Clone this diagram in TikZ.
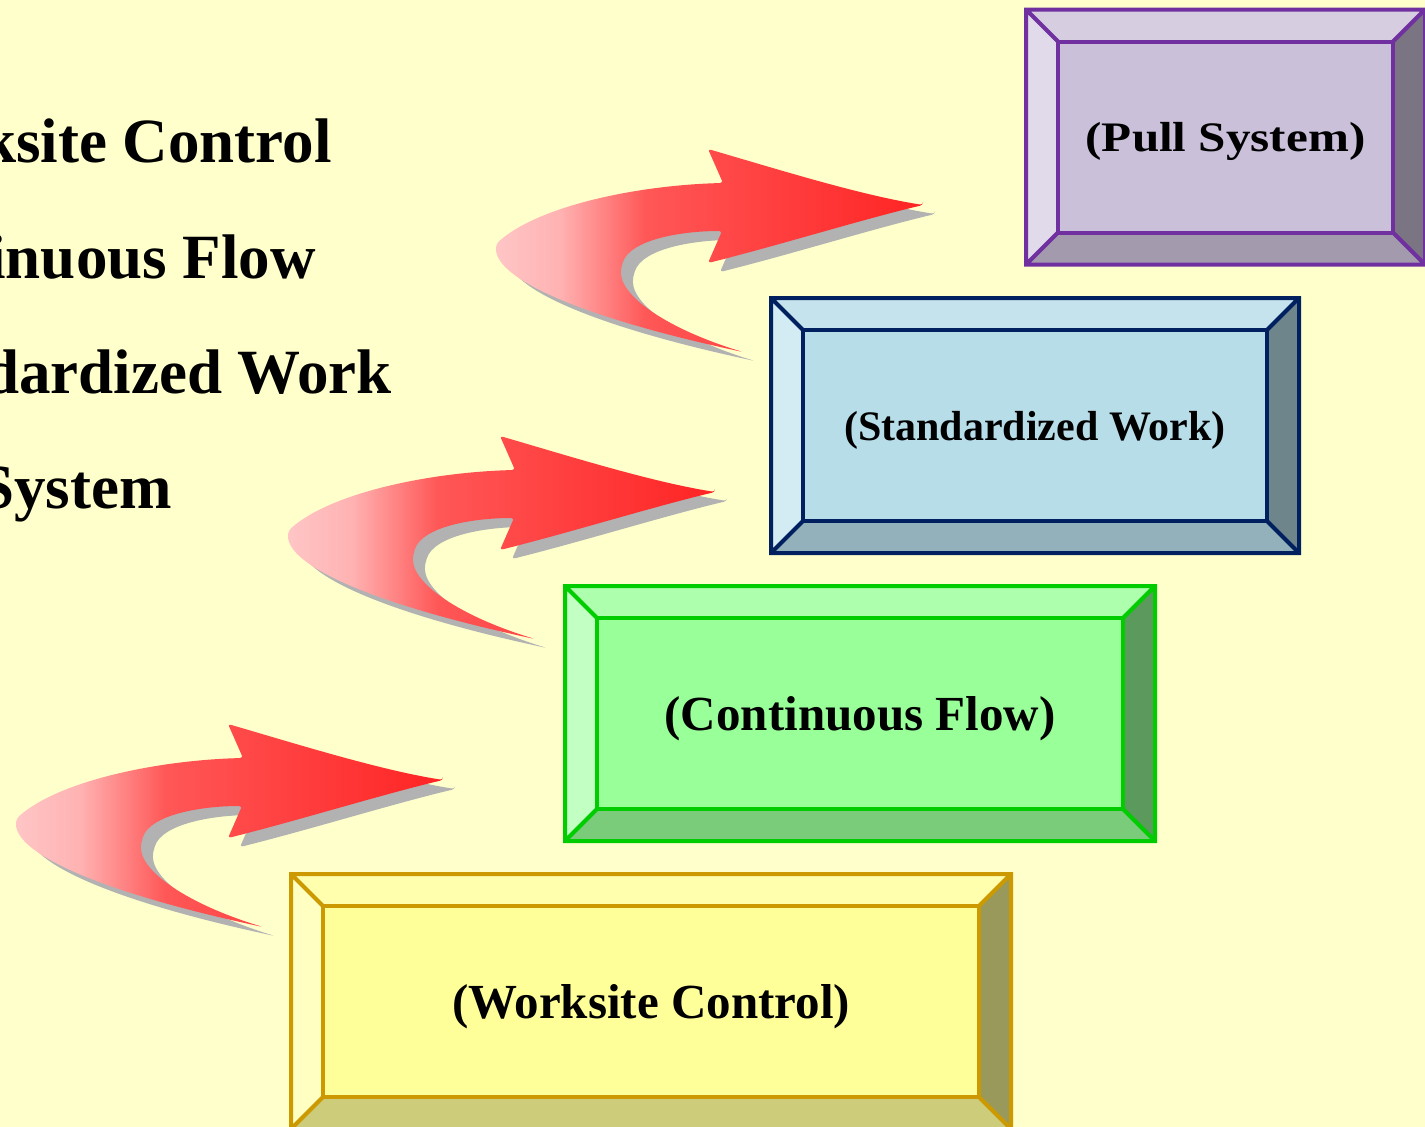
\documentclass[tikz,border=0pt]{standalone}
\usepackage{fontspec}
\setmainfont{Liberation Serif}
\newfontfamily\widefont[FakeStretch=1.17]{Liberation Serif}
\usetikzlibrary{backgrounds}

\definecolor{paper}{HTML}{FFFFCC}
\definecolor{shadowgray}{HTML}{B2B2B2}
% worksite control
\definecolor{workline}{HTML}{CC9900}
\definecolor{workface}{HTML}{FFFF99}
\definecolor{worktop}{HTML}{FFFFAD}
\definecolor{workleft}{HTML}{FFFFC2}
\definecolor{workbottom}{HTML}{CCCC7A}
\definecolor{workright}{HTML}{99995C}
% continuous flow
\definecolor{flowline}{HTML}{00CC00}
\definecolor{flowface}{HTML}{99FF99}
\definecolor{flowtop}{HTML}{ADFFAD}
\definecolor{flowleft}{HTML}{C2FFC2}
\definecolor{flowbottom}{HTML}{7ACC7A}
\definecolor{flowright}{HTML}{5C995C}
% standardized work
\definecolor{stdline}{HTML}{002060}
\definecolor{stdface}{HTML}{B7DDE8}
\definecolor{stdtop}{HTML}{C5E3EC}
\definecolor{stdleft}{HTML}{D3EBF2}
\definecolor{stdbottom}{HTML}{93B1BA}
\definecolor{stdright}{HTML}{6E858B}
% pull system
\definecolor{pullline}{HTML}{7030A0}
\definecolor{pullface}{HTML}{CBC0DA}
\definecolor{pulltop}{HTML}{D6CDE1}
\definecolor{pullleft}{HTML}{E0DAEB}
\definecolor{pullbottom}{HTML}{A39AAE}
\definecolor{pullright}{HTML}{7A7483}

\pgfdeclarehorizontalshading{arrowfill}{100bp}{color(0bp)=(red!22!white);
  color(25bp)=(red!22!white); color(33bp)=(red!30!white);
  color(43bp)=(red!66!white); color(75bp)=(red!86!white);
  color(100bp)=(red!86!white)}

% outline of one bent arrow (lowest one)
\newcommand{\bendpath}{(443,780)
  .. controls (380,770) and (300,745) .. (228,724) -- (243,758)
  .. controls (160,760) and (60,780) .. (17,818)
  .. controls (10,850) and (90,890) .. (263,927)
  .. controls (190,905) and (135,870) .. (142,840)
  .. controls (150,815) and (200,806) .. (242,806) -- (228,838)
  .. controls (300,820) and (380,795) .. (443,780) -- cycle}

% #1 name, #2 centre, #3 width, #4 colour prefix, #5 text
\newcommand{\bevelbox}[5]{%
  \node [face,minimum width=#3,fill=#4face,draw=#4line] (#1) at (#2) {#5};
  \begin{pgfonlayer}{background}
    \coordinate (#1 nw) at ([shift={(-32,-32)}]#1.north west);
    \coordinate (#1 ne) at ([shift={(32,-32)}]#1.north east);
    \coordinate (#1 sw) at ([shift={(-32,32)}]#1.south west);
    \coordinate (#1 se) at ([shift={(32,32)}]#1.south east);
    \fill [#4top]    (#1.north west) -- (#1 nw) -- (#1 ne) -- (#1.north east) -- cycle;
    \fill [#4left]   (#1.north west) -- (#1 nw) -- (#1 sw) -- (#1.south west) -- cycle;
    \fill [#4right]  (#1.north east) -- (#1 ne) -- (#1 se) -- (#1.south east) -- cycle;
    \fill [#4bottom] (#1.south west) -- (#1 sw) -- (#1 se) -- (#1.south east) -- cycle;
    \draw [#4line,line width=4pt] (#1 nw) rectangle (#1 se)
      (#1 nw) -- (#1.north west) (#1 ne) -- (#1.north east)
      (#1 sw) -- (#1.south west) (#1 se) -- (#1.south east);
  \end{pgfonlayer}}

\begin{document}
\begin{tikzpicture}[x=1pt,y=-1pt]

  \tikzstyle{face}=[rectangle,line width=4pt,minimum height=191pt,
                    inner sep=0pt,outer sep=0pt,text depth=0pt,
                    font=\bfseries\fontsize{49}{55}\selectfont]
  \tikzstyle{title}=[inner sep=0pt,anchor=base east,
                     font=\bfseries\fontsize{63}{70}\selectfont]
  \tikzstyle{arrowshadow}=[fill=shadowgray]

  \useasboundingbox (0,0) rectangle (1425,1127);
  \begin{pgfonlayer}{background}
    \fill [paper] (0,0) rectangle (1425,1127);
  \end{pgfonlayer}
  \clip (0,0) rectangle (1425,1127);

  % list on the left, cut by the page edge
  \node [title] (t1) at (332,162) {ksite Control};
  \node [title] (t2) at (316,278) {inuous Flow};
  \node [title] (t3) at (392,393) {dardized Work};
  \node [title] (t4) at (172,508) {System};

  % steps
  \bevelbox{work}{651,1001.5}{656pt}{work}{(Worksite Control)}
  \bevelbox{flow}{860,713.5}{526pt}{flow}{(Continuous Flow)}
  \bevelbox{std}{1035,425.5}{464pt}{std}{{\fontsize{42}{48}\selectfont(Standardized Work)}}
  \bevelbox{pull}{1225.5,137}{335pt}{pull}{{\widefont\bfseries\fontsize{42}{48}\selectfont(Pull System)}}

  % bent arrows between the steps
  \foreach \dx/\dy in {0/0,272/-288,480/-575}{
    \begin{scope}[shift={(\dx,\dy)},rounded corners=3pt]
      \fill [arrowshadow,shift={(12,9)}] \bendpath;
      \shade [shading=arrowfill] \bendpath;
    \end{scope}
  }
\end{tikzpicture}
\end{document}
